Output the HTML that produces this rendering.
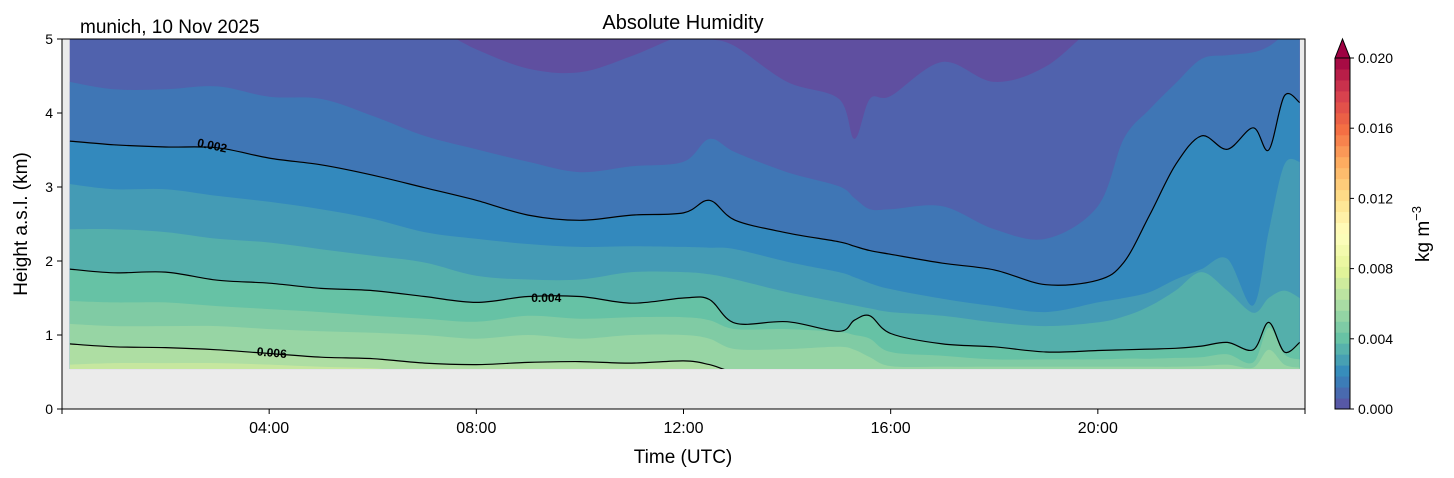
<!DOCTYPE html>
<html><head><meta charset="utf-8"><style>
html,body{margin:0;padding:0;background:#fff;}
svg{display:block;font-family:"Liberation Sans","DejaVu Sans",sans-serif;}
</style></head><body>
<svg id="chart" width="1454" height="478" viewBox="0 0 1454 478" xmlns="http://www.w3.org/2000/svg">
<text x="80" y="33" font-size="19">munich, 10 Nov 2025</text>
<text x="683" y="29" font-size="20" text-anchor="middle">Absolute Humidity</text>
<rect x="62" y="39" width="1243" height="370" fill="#ebebeb"/>
<g id="fills"></g>
<g id="lines"></g>
<g id="clabels"></g>
<rect x="62" y="39" width="1243" height="370" fill="none" stroke="#000" stroke-width="1"/>
<g id="yaxis"></g>
<g id="xaxis"></g>
<text transform="translate(27,224) rotate(-90)" font-size="19" text-anchor="middle">Height a.s.l. (km)</text>
<text x="683" y="463" font-size="19" text-anchor="middle">Time (UTC)</text>
<g id="cbar"></g>
<text transform="translate(1429,234) rotate(-90)" font-size="19" text-anchor="middle">kg m<tspan font-size="13" dy="-8">−3</tspan></text>
</svg>
<script>
const times=[0.15,1,2,3,4,5,6,7,8,9,10,11,12,12.5,13,14,15,15.3,15.6,16,17,18,19,20,20.5,21,21.5,22,22.5,23,23.3,23.6,23.9];
const lvlPurple=[5.2,5.2,5.2,5.2,5.2,5.2,5.2,5.2,4.86,4.6,4.55,4.77,5.05,5.0,4.9,4.42,4.19,3.65,4.19,4.23,4.69,4.42,4.63,5.2,5.2,5.2,5.2,5.2,5.2,5.2,5.2,5.2,5.2];
const lvlA=[4.42,4.32,4.32,4.36,4.22,4.19,3.96,3.69,3.51,3.34,3.2,3.28,3.34,3.65,3.47,3.2,3.01,2.85,2.7,2.7,2.74,2.43,2.3,2.74,3.65,4.05,4.4,4.73,4.78,4.82,4.9,5.05,5.1];
const line002=[3.62,3.57,3.54,3.53,3.39,3.30,3.16,2.99,2.82,2.62,2.55,2.62,2.65,2.82,2.55,2.38,2.26,2.2,2.14,2.09,1.97,1.88,1.68,1.74,1.98,2.62,3.3,3.69,3.51,3.8,3.5,4.23,4.14];
const lvlC=[3.04,2.97,2.97,2.88,2.8,2.7,2.57,2.39,2.3,2.23,2.19,2.2,2.19,2.18,2.16,1.99,1.85,1.78,1.7,1.62,1.49,1.39,1.31,1.44,1.5,1.58,1.75,1.89,2.03,1.4,2.4,3.3,3.34];
const lvlD=[2.43,2.43,2.39,2.3,2.25,2.16,2.07,1.98,1.8,1.75,1.75,1.85,1.85,1.82,1.75,1.58,1.44,1.4,1.36,1.31,1.26,1.17,1.12,1.17,1.25,1.39,1.6,1.85,1.6,1.3,1.5,1.6,1.5];
const line004=[1.89,1.84,1.85,1.74,1.70,1.63,1.6,1.52,1.44,1.52,1.52,1.43,1.5,1.48,1.16,1.18,1.05,1.2,1.26,1.02,0.88,0.84,0.77,0.79,0.8,0.81,0.82,0.85,0.9,0.8,1.17,0.77,0.9];
const lvlF=[1.46,1.44,1.44,1.39,1.35,1.31,1.26,1.22,1.18,1.26,1.22,1.24,1.24,1.2,1.08,1.08,1.04,1.0,0.95,0.77,0.72,0.67,0.67,0.67,0.68,0.68,0.69,0.7,0.74,0.63,1.1,0.74,0.67];
const lvlG=[1.15,1.12,1.12,1.12,1.08,1.05,1.03,1.0,0.95,1.0,0.95,1.0,1.0,0.95,0.81,0.81,0.84,0.8,0.7,0.58,0.57,0.57,0.57,0.57,0.57,0.57,0.57,0.58,0.6,0.56,0.8,0.6,0.56];
const line006=[0.88,0.84,0.83,0.80,0.75,0.70,0.68,0.62,0.6,0.63,0.64,0.62,0.65,0.6,0.5,0.45,0.45,0.45,0.45,0.45,0.45,0.45,0.45,0.45,0.45,0.45,0.45,0.45,0.45,0.45,0.45,0.45,0.45];
const lvlI=[0.6,0.62,0.62,0.62,0.6,0.57,0.55,0.5,0.5,0.5,0.5,0.5,0.5,0.5,0.5,0.5,0.5,0.5,0.5,0.5,0.5,0.5,0.5,0.5,0.5,0.5,0.5,0.5,0.5,0.5,0.5,0.5,0.5];
const groundKm=0.54;
const xTickLabels=["04:00","08:00","12:00","16:00","20:00"];
const xTickHours=[4,8,12,16,20];
const yTicks=[0,1,2,3,4,5];
const cbTicks=["0.000","0.004","0.008","0.012","0.016","0.020"];
const cbMax=0.02, cbSteps=32;

const NS="http://www.w3.org/2000/svg";
const X=h=>62+h*(1243/24);
const Y=k=>409-k*74;
function mk(tag,attrs,parent){const e=document.createElementNS(NS,tag);for(const k in attrs)e.setAttribute(k,attrs[k]);parent.appendChild(e);return e;}
function smoothPath(pts){
  let d="M"+pts[0][0].toFixed(1)+","+pts[0][1].toFixed(1);
  for(let i=0;i<pts.length-1;i++){
    const p0=pts[Math.max(0,i-1)],p1=pts[i],p2=pts[i+1],p3=pts[Math.min(pts.length-1,i+2)];
    const c1=[p1[0]+(p2[0]-p0[0])/6,p1[1]+(p2[1]-p0[1])/6],c2=[p2[0]-(p3[0]-p1[0])/6,p2[1]-(p3[1]-p1[1])/6];
    d+="C"+c1[0].toFixed(1)+","+c1[1].toFixed(1)+" "+c2[0].toFixed(1)+","+c2[1].toFixed(1)+" "+p2[0].toFixed(1)+","+p2[1].toFixed(1);
  }
  return d;
}
const fills=document.getElementById('fills');
const x0=X(times[0]),x1=X(times[times.length-1]);
let bg=mk('rect',{x:x0,y:Y(5),width:x1-x0,height:Y(groundKm)-Y(5),fill:'#5f4fa0'},fills);


const bands=[[lvlPurple,'#5062ad'],[lvlA,'#3f76b5'],[line002,'#3389bd'],[lvlC,'#449bb5'],[lvlD,'#54afab'],[line004,'#66c2a5'],[lvlF,'#80cba4'],[lvlG,'#97d5a4'],[line006,'#aedea3'],[lvlI,'#c6e79f']];
const clip=mk('clipPath',{id:'dclip'},mk('defs',{},fills));
mk('rect',{x:x0,y:Y(5),width:x1-x0,height:Y(groundKm)-Y(5)},clip);
bands.forEach((b,i)=>{
  const pts=times.map((t,j)=>[X(t),Y(b[0][j])]);
  const d=smoothPath(pts)+"L"+x1+","+Y(0)+"L"+x0+","+Y(0)+"Z";
  const p=mk('path',{d:d,fill:b[1],'clip-path':'url(#dclip)'},fills);
  
  
});
const lines=document.getElementById('lines');
[[line002,'0.002'],[line004,'0.004'],[line006,'0.006']].forEach(l=>{
  const pts=times.map((t,j)=>[X(t),Y(l[0][j])]);
  const p=mk('path',{d:smoothPath(pts),fill:'none',stroke:'#000','stroke-width':1.2,'clip-path':'url(#dclip)'},lines);
  
  
});
const cl=document.getElementById('clabels');
[["0.002",2.9,3.56,12],["0.004",9.35,1.50,0],["0.006",4.05,0.76,5]].forEach(c=>{
  const t=mk('text',{x:X(c[1]),y:Y(c[2])+4,'font-size':12,'font-weight':'bold','text-anchor':'middle',transform:`rotate(${c[3]} ${X(c[1])} ${Y(c[2])})`},cl);
  t.textContent=c[0];
  
  
});
const ya=document.getElementById('yaxis');
yTicks.forEach(v=>{
  mk('line',{x1:57,x2:62,y1:Y(v),y2:Y(v),stroke:'#000'},ya);
  const t=mk('text',{x:53,y:Y(v)+5,'font-size':14,'text-anchor':'end'},ya);
  t.textContent=v;
  
  
});
const xa=document.getElementById('xaxis');
xTickHours.forEach((h,i)=>{
  mk('line',{x1:X(h),x2:X(h),y1:409,y2:414,stroke:'#000'},xa);
  const t=mk('text',{x:X(h),y:433,'font-size':16,'text-anchor':'middle'},xa);
  t.textContent=xTickLabels[i];
  
  
});
mk('line',{x1:62,x2:62,y1:409,y2:414,stroke:'#000'},xa);
mk('line',{x1:1305,x2:1305,y1:409,y2:414,stroke:'#000'},xa);
const anchors=['#5e4fa2','#3288bd','#66c2a5','#abdda4','#e6f598','#ffffbf','#fee08b','#fdae61','#f46d43','#d53e4f','#9e0142'];
function hex(c){return [1,3,5].map(i=>parseInt(c.substr(i,2),16));}
function cmap(f){const s=f*10,i=Math.min(9,Math.floor(s)),u=s-i,a=hex(anchors[i]),b=hex(anchors[i+1]);return 'rgb('+a.map((v,k)=>Math.round(v+(b[k]-v)*u)).join(',')+')';}
const cb=document.getElementById('cbar');
const cbX=1335,cbW=15,cbTop=58,cbBot=409,cbH=cbBot-cbTop;
for(let i=0;i<cbSteps;i++){
  const r=mk('rect',{x:cbX,y:cbBot-(i+1)*cbH/cbSteps,width:cbW,height:cbH/cbSteps+0.5,fill:cmap((i+0.5)/cbSteps)},cb);
  
  
}
mk('polygon',{points:`${cbX},${cbTop} ${cbX+cbW/2},39 ${cbX+cbW},${cbTop}`,fill:'#9e0142',stroke:'#000','stroke-width':1},cb);
mk('path',{d:`M${cbX},${cbTop}V${cbBot}H${cbX+cbW}V${cbTop}`,fill:'none',stroke:'#000','stroke-width':1},cb);
cbTicks.forEach((s,i)=>{
  const y=cbBot-parseFloat(s)/cbMax*cbH;
  mk('line',{x1:cbX+cbW,x2:cbX+cbW+4,y1:y,y2:y,stroke:'#000'},cb);
  const t=mk('text',{x:1358,y:y+5,'font-size':14},cb);
  t.textContent=s;
  
  
});
</script>
</body></html>
